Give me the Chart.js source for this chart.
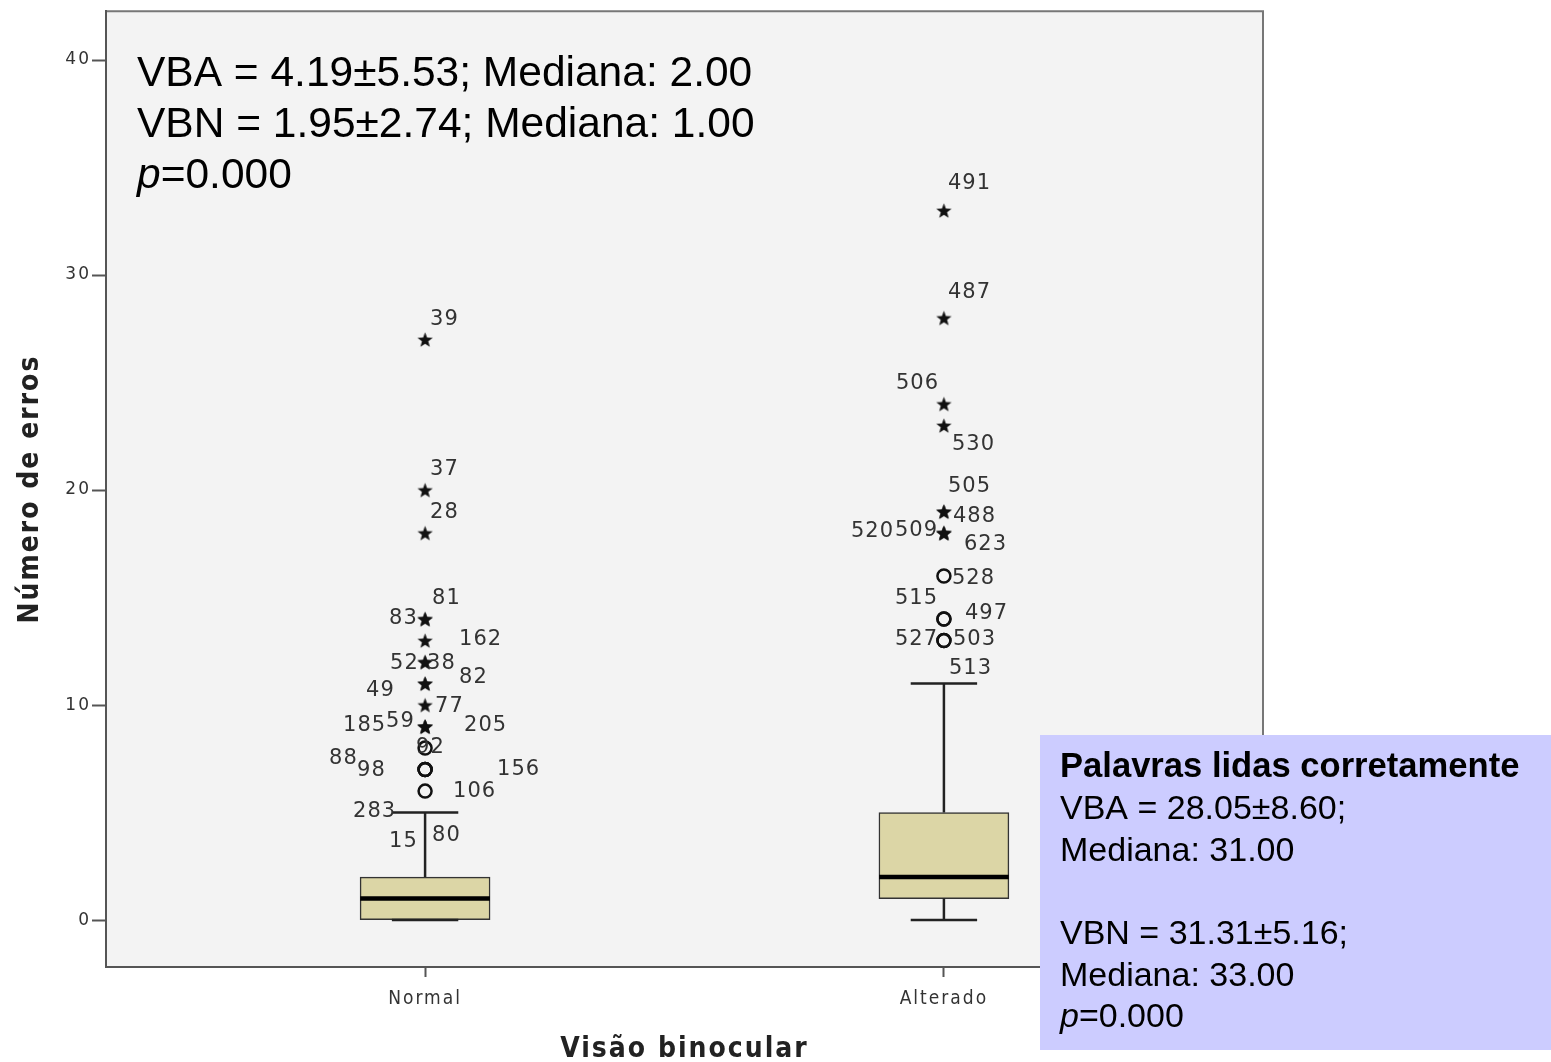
<!DOCTYPE html>
<html>
<head>
<meta charset="utf-8">
<script src="https://cdn.jsdelivr.net/npm/chart.js@4.4.1/dist/chart.umd.min.js"></script>
<style>
  body { margin: 0; background: #fff; }
  #wrap { width: 1551px; height: 1062px; }
</style>
</head>
<body>
<div id="wrap"><canvas id="chart" width="1551" height="1062"></canvas></div>
<script>
//* Data
const groups = ['Normal', 'Alterado'];
const groupPos = [1, 2];
const q1 = [0, 1];
const median = [1, 2];
const q3 = [2, 5];
const whiskerLow = [0, 0];
const whiskerHigh = [5, 11];

// extremes (stars) and outliers (circles), one entry per case
const normalExtremes = [27, 20, 18, 14, 14, 13, 12, 12, 11, 11, 10, 9, 9, 9];
const normalOutliers = [8, 7, 7, 7, 6];
const alteradoExtremes = [33, 28, 24, 23, 19, 19, 18, 18, 18];
const alteradoOutliers = [16, 14, 14, 13, 13];

// case labels
const normalIds = ['39', '37', '28', '81', '83', '162', '52', '38', '49', '82', '77', '185', '59', '205', '92', '88', '98', '156', '106', '283', '15', '80'];
const normalIdValues = [27, 20, 18, 14, 14, 13, 12, 12, 11, 11, 10, 9, 9, 9, 8, 7, 7, 7, 6, 5, 5, 5];
const alteradoIds = ['491', '487', '506', '530', '505', '488', '520', '509', '623', '528', '515', '497', '527', '503', '513'];
const alteradoIdValues = [33, 28, 24, 23, 19, 19, 18, 18, 18, 16, 14, 14, 13, 13, 11];

const yTicks = [0, 10, 20, 30, 40];

//? label nudges in px (dx, dy) so the ids don't sit on the markers
const normalNudge = [[5,-20],[5,-21],[5,-21],[7,-21],[-36,-1],[34,-1],[-35,1],[2,1],[-59,7],[34,-6],[10,1],[-82,-1],[-39,-5],[39,-1],[-9,-1],[-96,-11],[-68,1],[72,0],[28,0],[-72,-1],[-36,29],[7,23]];
const alteradoNudge = [[4,-27],[4,-25],[-48,-21],[8,19],[4,-25],[9,5],[-93,-2],[-49,-3],[20,11],[8,2],[-49,-21],[21,-6],[-49,-1],[9,-1],[5,-15]];

const BOX_HALF = 0.125;
const CAP_HALF = 0.064;

// star marker
function makeStar(size) {
  const c = document.createElement('canvas');
  c.width = size; c.height = size;
  const g = c.getContext('2d');
  const cx = size / 2, cy = size / 2 + 0.8, ro = size / 2 - 0.5, ri = ro * 0.42;
  g.beginPath();
  for (let i = 0; i < 10; i++) {
    const r = i % 2 ? ri : ro;
    const a = -Math.PI / 2 + i * Math.PI / 5;
    g.lineTo(cx + r * Math.cos(a), cy + r * Math.sin(a));
  }
  g.closePath();
  g.fillStyle = '#111';
  g.fill();
  return c;
}
const star = makeStar(17);

// whisker + cap segments, null breaks the line
const whiskerData = [];
const medianData = [];
for (let i = 0; i < groups.length; i++) {
  const g = groupPos[i];
  whiskerData.push({x: g, y: q3[i]}, {x: g, y: whiskerHigh[i]}, {x: g, y: null});
  whiskerData.push({x: g - CAP_HALF, y: whiskerHigh[i]}, {x: g + CAP_HALF, y: whiskerHigh[i]}, {x: g, y: null});
  whiskerData.push({x: g, y: q1[i]}, {x: g, y: whiskerLow[i]}, {x: g, y: null});
  whiskerData.push({x: g - CAP_HALF, y: whiskerLow[i]}, {x: g + CAP_HALF, y: whiskerLow[i]}, {x: g, y: null});
  medianData.push({x: g - BOX_HALF, y: median[i]}, {x: g + BOX_HALF, y: median[i]}, {x: g, y: null});
}

const pts = (g, arr) => arr.map(v => ({x: g, y: v}));

//* Plugins
const frame = {
  id: 'frame',
  beforeDraw(chart) {
    const {ctx, chartArea: a} = chart;
    ctx.save();
    ctx.fillStyle = '#f3f3f3';
    ctx.fillRect(a.left, a.top, a.right - a.left, a.bottom - a.top);
    ctx.strokeStyle = '#777';
    ctx.lineWidth = 2;
    ctx.beginPath();
    ctx.moveTo(a.left, a.top);
    ctx.lineTo(a.right, a.top);
    ctx.lineTo(a.right, a.bottom);
    ctx.stroke();
    ctx.restore();
    // axis text in the reference is loosely spaced
    ctx.letterSpacing = '2px';
  },
  beforeDatasetsDraw(chart) {
    chart.ctx.letterSpacing = '0px';
  }
};

const caseLabels = {
  id: 'caseLabels',
  afterDatasetsDraw(chart) {
    const {ctx, scales: {x, y}} = chart;
    ctx.save();
    ctx.font = '21px "DejaVu Sans", sans-serif';
    ctx.letterSpacing = '1px';
    ctx.fillStyle = '#333';
    ctx.textAlign = 'left';
    ctx.textBaseline = 'middle';
    const put = (g, ids, vals, nudge) => {
      for (let i = 0; i < ids.length; i++) {
        ctx.fillText(ids[i], x.getPixelForValue(g) + nudge[i][0], y.getPixelForValue(vals[i]) + nudge[i][1]);
      }
    };
    put(groupPos[0], normalIds, normalIdValues, normalNudge);
    put(groupPos[1], alteradoIds, alteradoIdValues, alteradoNudge);
    ctx.letterSpacing = '0px';
    ctx.restore();
  }
};

const notes = {
  id: 'notes',
  afterDraw(chart) {
    const ctx = chart.ctx;
    ctx.save();
    ctx.letterSpacing = '0px';
    ctx.fillStyle = '#000';
    ctx.textAlign = 'left';
    ctx.textBaseline = 'alphabetic';
    ctx.font = '42.5px "Liberation Sans", Arial, sans-serif';
    ctx.fillText('VBA = 4.19±5.53; Mediana: 2.00', 137, 86);
    ctx.fillText('VBN = 1.95±2.74; Mediana: 1.00', 137, 137);
    ctx.font = 'italic 42.5px "Liberation Sans", Arial, sans-serif';
    ctx.fillText('p', 137, 188);
    let w = ctx.measureText('p').width;
    ctx.font = '42.5px "Liberation Sans", Arial, sans-serif';
    ctx.fillText('=0.000', 137 + w, 188);

    // side box
    ctx.fillStyle = '#ccccff';
    ctx.fillRect(1040, 735, 511, 315);
    ctx.fillStyle = '#000';
    ctx.font = 'bold 34.6px "Liberation Sans", Arial, sans-serif';
    ctx.fillText('Palavras lidas corretamente', 1060, 777);
    ctx.font = '34px "Liberation Sans", Arial, sans-serif';
    ctx.fillText('VBA = 28.05±8.60;', 1060, 819);
    ctx.fillText('Mediana: 31.00', 1060, 861);
    ctx.fillText('VBN = 31.31±5.16;', 1060, 944);
    ctx.fillText('Mediana: 33.00', 1060, 986);
    ctx.font = 'italic 34px "Liberation Sans", Arial, sans-serif';
    ctx.fillText('p', 1060, 1027);
    w = ctx.measureText('p').width;
    ctx.font = '34px "Liberation Sans", Arial, sans-serif';
    ctx.fillText('=0.000', 1060 + w, 1027);
    ctx.restore();
  }
};

//* Chart
const ctx = document.getElementById('chart').getContext('2d');
const chart = new Chart(ctx, {
  type: 'bar',
  data: {
    datasets: [
      {
        type: 'bar',
        data: groupPos.map((g, i) => ({x: g, y: [q1[i], q3[i]]})),
        backgroundColor: '#dcd6a6',
        borderColor: '#333',
        borderWidth: 1.5,
        borderSkipped: false,
        barThickness: 130,
        order: 3,
      },
      {
        type: 'line',
        data: whiskerData,
        borderColor: '#222',
        borderWidth: 2.5,
        pointRadius: 0,
        spanGaps: false,
        order: 2,
      },
      {
        type: 'line',
        data: medianData,
        borderColor: '#000',
        borderWidth: 4.5,
        pointRadius: 0,
        spanGaps: false,
        order: 1,
      },
      {
        type: 'scatter',
        data: pts(groupPos[0], normalExtremes).concat(pts(groupPos[1], alteradoExtremes)),
        pointStyle: star,
        order: 0,
      },
      {
        type: 'scatter',
        data: pts(groupPos[0], normalOutliers).concat(pts(groupPos[1], alteradoOutliers)),
        pointStyle: 'circle',
        pointRadius: 6.5,
        borderWidth: 2.5,
        borderColor: '#111',
        backgroundColor: 'rgba(0,0,0,0)',
        order: 0,
      },
    ]
  },
  options: {
    responsive: false,
    animation: false,
    devicePixelRatio: 1,
    layout: { padding: { top: 8, right: 288, left: 0, bottom: 0 } },
    plugins: {
      legend: { display: false },
      tooltip: { enabled: false },
    },
    scales: {
      x: {
        type: 'linear',
        offset: false,
        min: 0.385,
        max: 2.615,
        afterBuildTicks: axis => { axis.ticks = groupPos.map(v => ({value: v})); },
        afterFit: axis => { axis.height = 95; },
        ticks: {
          callback: v => groups[groupPos.indexOf(v)],
          font: { family: '"DejaVu Sans Condensed", sans-serif', size: 19 },
          color: '#333',
          padding: 11,
          maxRotation: 0,
        },
        grid: { offset: false, drawOnChartArea: false, tickLength: 10, tickColor: '#555', tickWidth: 2 },
        border: { color: '#555', width: 2 },
        title: {
          display: true,
          text: 'Visão binocular',
          font: { family: '"DejaVu Sans Condensed", sans-serif', size: 28, weight: 'bold', lineHeight: 1 },
          color: '#222',
          padding: { top: 0, bottom: -2 },
        },
      },
      y: {
        min: -2.18,
        max: 42.27,
        afterBuildTicks: axis => { axis.ticks = yTicks.map(v => ({value: v})); },
        afterFit: axis => { axis.width = 106; },
        ticks: {
          font: { family: '"DejaVu Sans", sans-serif', size: 17 },
          color: '#333',
          padding: 1,
        },
        grid: { drawOnChartArea: false, tickLength: 14, tickColor: '#555', tickWidth: 2 },
        border: { color: '#555', width: 2 },
        title: {
          display: true,
          text: 'Número de erros',
          font: { family: '"DejaVu Sans Condensed", sans-serif', size: 28, weight: 'bold', lineHeight: 1 },
          color: '#222',
          padding: { top: 17, bottom: 0 },
        },
      },
    },
  },
  plugins: [frame, caseLabels, notes],
});
</script>
</body>
</html>
